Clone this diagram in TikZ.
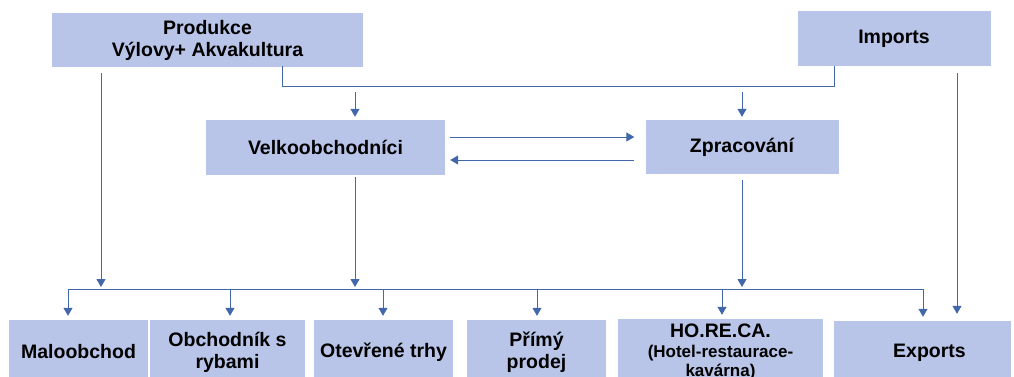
\documentclass[tikz,border=0pt]{standalone}
\usepackage{fontspec}
\setmainfont{Liberation Sans}
\usetikzlibrary{arrows.meta}
\definecolor{boxfill}{HTML}{B8C4E8}
\definecolor{linec}{HTML}{4267AB}
\begin{document}
\begin{tikzpicture}[x=1pt,y=-1pt,
  box/.style={fill=boxfill, draw=none, inner sep=0pt, align=center,
    font=\bfseries\fontsize{19.5}{22}\selectfont},
  conn/.style={draw=linec, line width=1pt},
  arr/.style={conn, -{Triangle[width=9pt,length=8pt]}}]
\clip (0,0) rectangle (1014,376);
\fill[white] (0,0) rectangle (1014,376);
% top row
\node[box, minimum width=311pt, minimum height=54pt] (prod) at (207.5,40) {Produkce\\Výlovy+ Akvakultura};
\node[box, minimum width=193pt, minimum height=55pt] (imp) at (894,38.5) {Imports};
% middle row
\node[box, minimum width=239pt, minimum height=55pt] (velko) at (325.5,147.5) {Velkoobchodníci};
\node[box, minimum width=193pt, minimum height=54pt] (zprac) at (742,147) {Zpracování};
% bottom row
\node[box, minimum width=139pt, minimum height=64pt] (malo) at (78.5,352) {Maloobchod};
\node[box, minimum width=155pt, minimum height=64pt] (obch) at (227.5,352) {Obchodník s\\rybami};
\node[box, minimum width=139pt, minimum height=64pt] (otev) at (383.5,352) {Otevřené trhy};
\node[box, minimum width=139pt, minimum height=64pt] (primy) at (536.5,352) {Přímý\\prodej};
\node[box, minimum width=205pt, minimum height=65pt] (horeca) at (720.5,351.5) {HO.RE.CA.\\[-2pt]{\bfseries\fontsize{17}{18}\selectfont (Hotel-restaurace-}\\[-3pt]{\bfseries\fontsize{17}{18}\selectfont kavárna)}};
\node[box, minimum width=177pt, minimum height=64pt] (exp) at (922.5,353) {\hspace*{14pt}Exports};
% coordinates
\coordinate (pA) at (282,66);
\coordinate (pB) at (834,86);
\coordinate (vIn) at (355,92);
\coordinate (zIn) at (742,92);
\coordinate (busL) at (68,289);
\coordinate (busR) at (923,289);
% top joining line
\draw[conn] (pA) |- (pB) -- (imp.south -| pB);
% arrows into middle row
\draw[arr] (vIn) -- ([yshift=3pt]velko.north -| vIn);
\draw[arr] (zIn) -- ([yshift=3pt]zprac.north -| zIn);
% between middle boxes
\draw[arr] ([xshift=5pt,yshift=10.5pt]velko.east) -- ([xshift=-11pt,yshift=10.5pt]velko.east -| zprac.west);
\draw[arr] ([xshift=-11pt,yshift=-12.5pt]velko.east -| zprac.west) -- ([xshift=5pt,yshift=-12.5pt]velko.east);
% down to bus
\draw[arr] ([yshift=-6pt]prod.south -| 101,0) -- (101,287);
\draw[arr] ([yshift=-2pt]velko.south -| vIn) -- (vIn |- 0,287);
\draw[arr] ([yshift=-6pt]zprac.south -| zIn) -- (zIn |- 0,287);
% imports to exports
\draw[arr] ([yshift=-7pt]imp.south -| 957,0) -- ([yshift=7pt]exp.north -| 957,0);
% bus
\draw[conn] (busL) -- (busR);
\foreach \x/\n in {68/malo,230/obch,383/otev,537/primy,722/horeca,923/exp}{
  \draw[arr] (\x,289) -- ([yshift=4pt]\n.north -| \x,0);
}
\end{tikzpicture}
\end{document}
